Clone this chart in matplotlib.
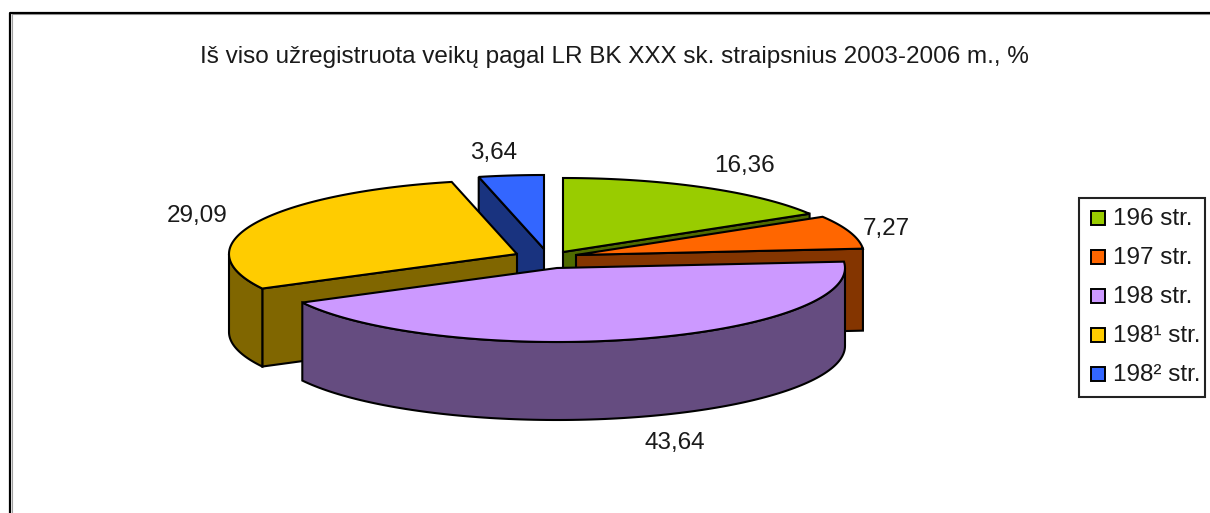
import numpy as np
import matplotlib
matplotlib.use("Agg")
import matplotlib.pyplot as plt
from matplotlib.patches import Polygon, Rectangle

title = "Iš viso užregistruota veikų pagal LR BK XXX sk. straipsnius 2003-2006 m., %"
categories = ["196 str.", "197 str.", "198 str.", "198¹ str.", "198² str."]
values = [16.36, 7.27, 43.64, 29.09, 3.64]
value_labels = ["16,36", "7,27", "43,64", "29,09", "3,64"]

top_colors = ["#99CC00", "#FF6600", "#CC99FF", "#FFCC00", "#3366FF"]
side_colors = ["#4F6A00", "#843500", "#654C80", "#806600", "#19337F"]
apexes = [(563, 252), (576, 255), (557, 268), (517, 254), (544, 249)]
depths = [78, 82, 78, 78, 78]
cut_edge = [1, 1, None, 0, 0]  # which radial cut of each slice faces the viewer
label_pos = [(744, 166), (886, 229), (675, 443), (197, 216), (494, 153)]
RX, RY = 288, 74
draw_order = [4, 3, 0, 1, 2]
LW = 1.5
FS = 17.5
TEXT = "#1A1A1A"

plt.rcParams["font.family"] = ["Liberation Sans", "DejaVu Sans"]
fig = plt.figure(figsize=(12.10, 5.13), dpi=100)
ax = fig.add_axes([0, 0, 1, 1])
ax.set_xlim(0, 1210)
ax.set_ylim(513, 0)
ax.axis("off")

# chart-area frame (only its left and top edges fall inside the crop)
ax.plot([10.2, 10.2, 1210], [513, 12.8, 12.8], color="black", lw=1.6, zorder=2)
ax.plot([11.8, 11.8, 1210], [513, 14.4, 14.4], color="#A0A0A0", lw=0.8, zorder=1)


def rim(apex, a0, a1, n=120):
    t = np.radians(np.linspace(a0, a1, n))
    return np.column_stack([apex[0] + RX * np.sin(t), apex[1] - RY * np.cos(t)])


def extrude(points, depth):
    return np.vstack([points, (points + np.array([0, depth]))[::-1]])


def add(points, color, z):
    ax.add_patch(Polygon(points, closed=True, facecolor=color, edgecolor="black",
                         lw=LW, joinstyle="miter", zorder=z))


edges = np.concatenate([[0], np.cumsum(values)]) / np.sum(values) * 360
for z, i in enumerate(draw_order):
    a0, a1 = edges[i], edges[i + 1]
    apex = np.array(apexes[i], dtype=float)
    base = 10 + z * 10
    if cut_edge[i] is not None:
        angle = a1 if cut_edge[i] else a0
        add(extrude(np.vstack([apex, rim(apex, angle, angle, 1)]), depths[i]), side_colors[i], base)
    lo, hi = max(a0, 90), min(a1, 270)  # outer wall, only where it faces the viewer
    if lo < hi:
        add(extrude(rim(apex, lo, hi), depths[i]), side_colors[i], base + 1)
    add(np.vstack([apex, rim(apex, a0, a1)]), top_colors[i], base + 2)

for (x, y), text in zip(label_pos, value_labels):
    ax.text(x, y, text, ha="center", va="center", fontsize=FS, color=TEXT, zorder=100)

ax.text(614.5, 57, title, ha="center", va="center", fontsize=FS, color=TEXT, zorder=100)

# legend
ax.add_patch(Rectangle((1078.5, 198), 126, 198.5, facecolor="white", edgecolor="#222222", lw=1.5, zorder=90))
for k, (name, col) in enumerate(zip(categories, top_colors)):
    yc = 218 + k * 39
    ax.add_patch(Rectangle((1091, yc - 7), 14, 14, facecolor=col, edgecolor="black", lw=1.4, zorder=91))
    ax.text(1113, yc + 1, name, ha="left", va="center", fontsize=FS, color=TEXT, zorder=91)

fig.savefig("out.png", dpi=100)
